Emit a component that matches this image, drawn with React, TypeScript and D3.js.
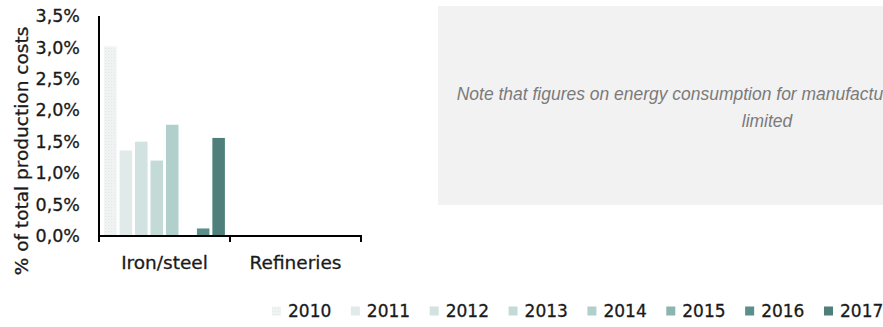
import React from "react";
import * as d3 from "d3";

const categories = ["Iron/steel", "Refineries"];
const years = ["2010", "2011", "2012", "2013", "2014", "2015", "2016", "2017"];
const ironSteel = [3.02, 1.36, 1.5, 1.2, 1.77, 0, 0.12, 1.56];
const refineries = [0, 0, 0, 0, 0, 0, 0, 0];
const yTicks = [0, 0.5, 1, 1.5, 2, 2.5, 3, 3.5];
const yearColors = ["url(#dots2010)", "#dfeae9", "#d1e2e0", "#c3dad7", "#b1d0cc", "#8cb5b0", "#5a8f8a", "#4f7f7a"];
const noteLine1 = "Note that figures on energy consumption for manufacturing industries are";
const noteLine2 = "limited";
const yTitle = "% of total production costs";

const seriesByCategory = [ironSteel, refineries];

export default function App() {
  const W = 883, H = 327;
  const font = "'DejaVu Sans', sans-serif";
  const ink = "#1a1a1a";
  const heavy = { stroke: ink, strokeWidth: 0.3 };
  const y = d3.scaleLinear().domain([0, 3.5]).range([236, 16]);
  const x0 = d3.scaleBand<string>().domain(categories).range([99, 361]).paddingInner(0).paddingOuter(0);
  const x1 = d3.scaleBand<string>().domain(years).range([0, x0.bandwidth()]).paddingInner(0.19).paddingOuter(0.33);
  const legendX = d3.scaleLinear().domain([0, years.length - 1]).range([272, 824]);
  const fmt = (v: number) => d3.format(".1f")(v).replace(".", ",") + "%";
  const boundaries = [99, ...categories.map((c) => (x0(c) as number) + x0.bandwidth())];

  return (
    <svg width={W} height={H} style={{ position: "absolute", left: 0, top: 0 }}>
      <defs>
        <pattern id="dots2010" width="3" height="3" patternUnits="userSpaceOnUse">
          <rect width="3" height="3" fill="#eff4f3" />
          <rect width="1" height="1" fill="#dfe8e7" />
        </pattern>
      </defs>
      <rect x={0} y={0} width={W} height={H} fill="#ffffff" />

      {/* note box */}
      <rect x={438} y={6} width={700} height={199} fill="#f2f2f2" />
      <g transform="translate(456.7,100) scale(0.92,1)">
        <text x={0} y={0} fontFamily="'Liberation Sans', Arial, sans-serif" fontStyle="italic" fontSize={19} fill="#7a7a7a">
          {noteLine1}
        </text>
      </g>
      <g transform="translate(767,126.5) scale(0.92,1)">
        <text x={0} y={0} textAnchor="middle" fontFamily="'Liberation Sans', Arial, sans-serif" fontStyle="italic" fontSize={19} fill="#7a7a7a">
          {noteLine2}
        </text>
      </g>

      {/* bars */}
      {categories.map((c, ci) => (
        <g key={c} transform={`translate(${x0(c)},0)`}>
          {years.map((yr, i) => {
            const v = seriesByCategory[ci][i];
            if (!v) return null;
            return (
              <rect key={yr} x={x1(yr)} y={y(v)} width={x1.bandwidth()} height={y(0) - y(v)} fill={yearColors[i]} />
            );
          })}
        </g>
      ))}

      {/* y axis */}
      <line x1={99} x2={99} y1={16} y2={242} stroke="#000" strokeWidth={2} />
      {yTicks.map((t) => (
        <text key={t} x={80} y={y(t)} dy="0.35em" textAnchor="end" fontFamily={font} fontSize={17.5} fill={ink} {...heavy}>
          {fmt(t)}
        </text>
      ))}
      <text transform={`translate(21,151) rotate(-90)`} textAnchor="middle" dominantBaseline="central" fontFamily={font} fontSize={18.5} fill={ink} {...heavy}>
        {yTitle}
      </text>

      {/* x axis */}
      <line x1={98} x2={362} y1={236} y2={236} stroke="#000" strokeWidth={2} />
      {boundaries.map((b, i) => (
        <line key={i} x1={b} x2={b} y1={236} y2={242} stroke="#000" strokeWidth={2} />
      ))}
      {categories.map((c) => (
        <text key={c} x={(x0(c) as number) + x0.bandwidth() / 2} y={263} dy="0.35em" textAnchor="middle" fontFamily={font} fontSize={18.5} fill={ink} {...heavy}>
          {c}
        </text>
      ))}

      {/* legend */}
      {years.map((yr, i) => (
        <g key={yr} transform={`translate(${legendX(i)},311)`}>
          <rect x={0} y={-4.5} width={9} height={9} fill={yearColors[i]} />
          <text x={16} y={0} dy="0.35em" fontFamily={font} fontSize={17} fill={ink} {...heavy}>
            {yr}
          </text>
        </g>
      ))}
    </svg>
  );
}
